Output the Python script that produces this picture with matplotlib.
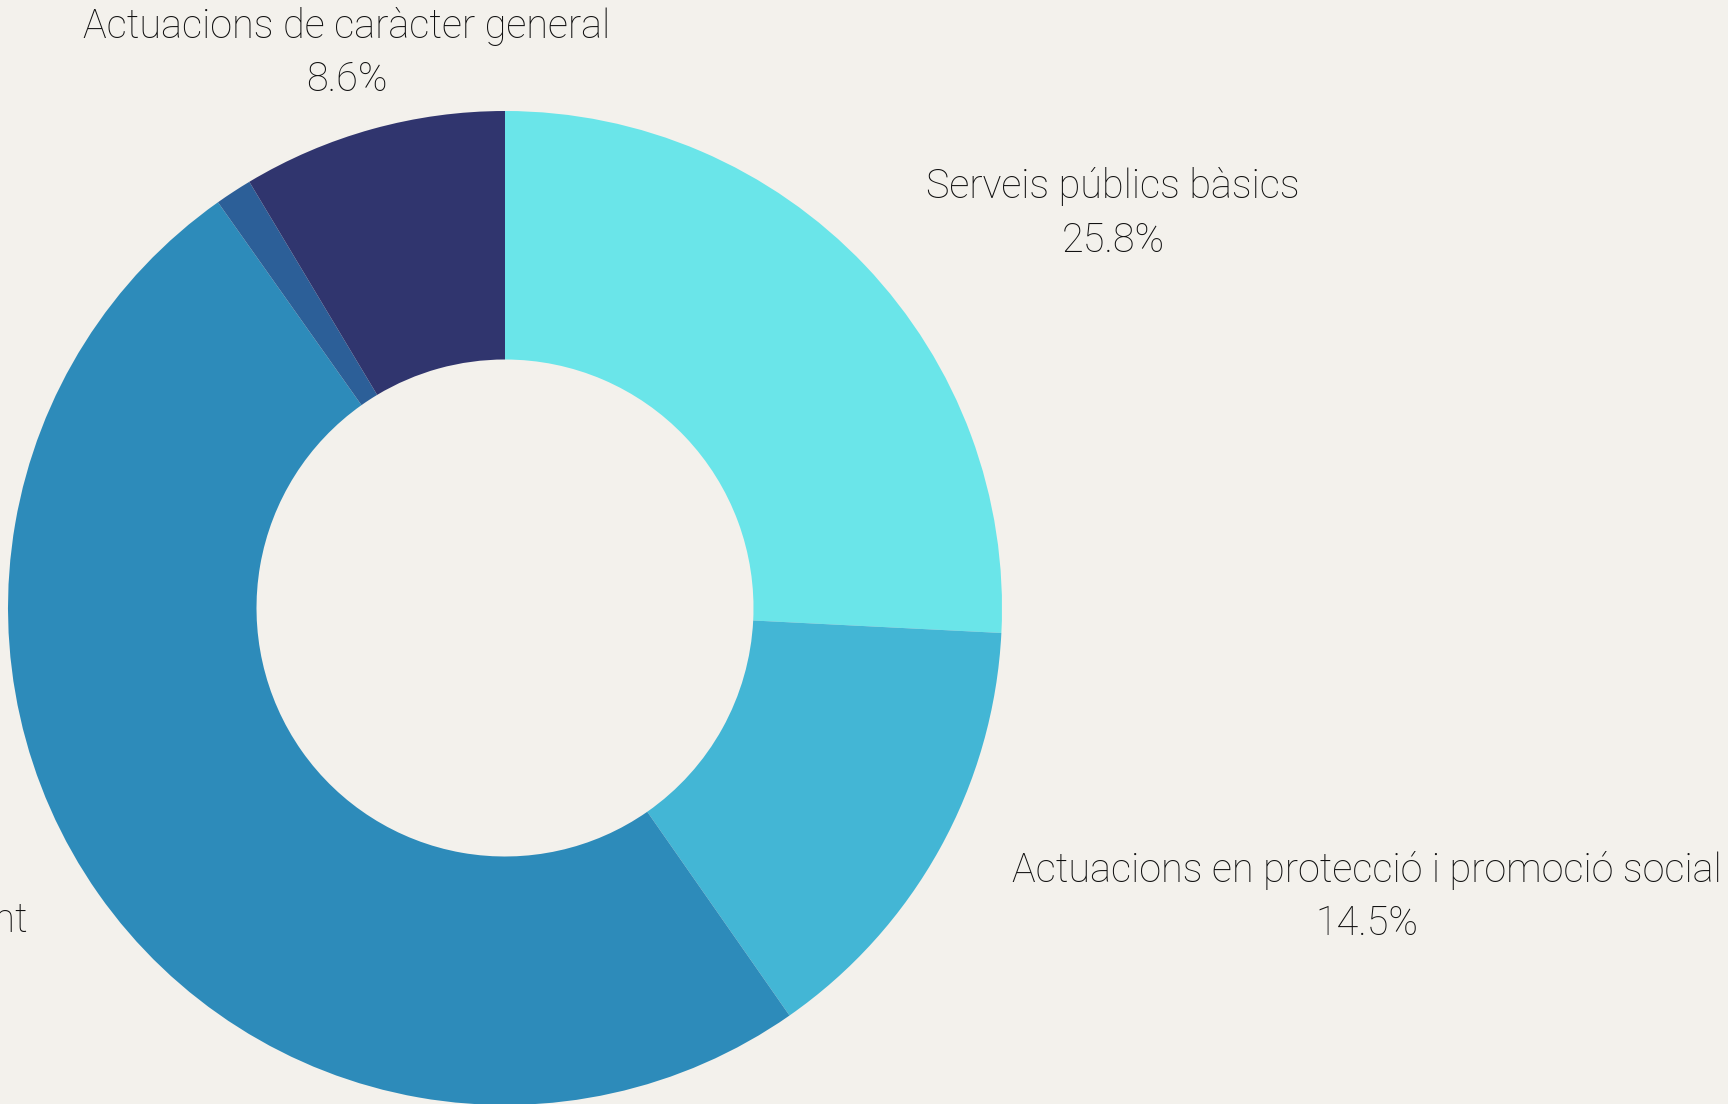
import matplotlib
matplotlib.use("Agg")
import matplotlib.pyplot as plt

# dades del pressupost (percentatge per grup de funcions)
categories = ['Serveis públics bàsics',
              'Actuacions en protecció i promoció social',
              'Producció de béns públics de caràcter preferent',
              'Actuacions de caràcter econòmic',
              'Actuacions de caràcter general']
values = [25.8, 14.5, 49.9, 1.2, 8.6]
colors = ['#6ae5e9', '#43b6d5', '#2d8bba', '#2c5f98', '#30356e']
show_label = [True, True, True, False, True]

bg = '#f3f1ec'
W, H = 1728, 1104

fig = plt.figure(figsize=(W / 100, H / 100), dpi=100, facecolor=bg)
ax = fig.add_axes([0, 0, 1, 1])
ax.set_facecolor(bg)

cx, cy, r = 505, H - 608, 497
ax.pie(values, colors=colors, startangle=90, counterclock=False,
       center=(cx, cy), radius=r,
       wedgeprops=dict(width=r * 0.5, linewidth=0))

ax.set_xlim(0, W)
ax.set_ylim(0, H)
ax.set_aspect('equal')
ax.axis('off')

# posicio de les etiquetes (centre del text, en pixels des de dalt)
label_pos = [(1113, 187, 'center'), (1367, 870, 'center'),
             (28, 920, 'right'), None, (347, 26, 'center')]

font = dict(family='Roboto', fontweight='light', color='#111111', fontsize=28.5)
for name, val, show, pos in zip(categories, values, show_label, label_pos):
    if not show:
        continue
    x, y, ha = pos
    ax.text(x, H - y, name, ha=ha, va='center', **font)
    if ha == 'center':
        ax.text(x, H - y - 54, f'{val}%', ha='center', va='center', **font)

fig.savefig('out.png', dpi=100, facecolor=bg)
